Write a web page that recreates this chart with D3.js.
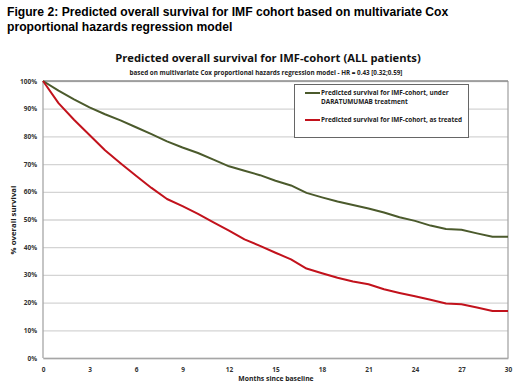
<!DOCTYPE html>
<html>
<head>
<meta charset="utf-8">
<script src="https://cdn.jsdelivr.net/npm/d3@7"></script>
<style>
  body { margin: 0; background: #fff; }
  svg { display: block; }
</style>
</head>
<body>
<script>
// survival, one point per month
const months = d3.range(0, 31);
const darzSurvival = [100, 96.5, 93.4, 90.5, 88.0, 85.8, 83.3, 80.8, 78.2, 76.0, 74.0, 71.6, 69.2, 67.6, 66.0,
    64.0, 62.3, 59.6, 58.0, 56.5, 55.2, 54.0, 52.5, 50.8, 49.5, 47.8, 46.6, 46.3, 45.0, 43.8, 43.8];
const treatedSurvival = [100, 92.0, 86.0, 80.5, 75.0, 70.3, 65.8, 61.4, 57.4, 54.8, 52.0, 49.0, 46.0, 42.8, 40.5,
    38.0, 35.6, 32.3, 30.6, 29.0, 27.6, 26.6, 24.8, 23.5, 22.3, 21.0, 19.7, 19.4, 18.2, 17.0, 17.0];
const seriesNames = ["Predicted survival for IMF-cohort, under|DARATUMUMAB treatment",
    "Predicted survival for IMF-cohort, as treated"];
const seriesColors = ["#4b5a2c", "#c2121c"];
const xTicks = d3.range(0, 31, 3);
const yTicks = d3.range(0, 1.01, 0.1);

const width = 520, height = 385;
const svg = d3.select("body").append("svg")
    .attr("width", width)
    .attr("height", height);

const x = d3.scaleLinear().domain([0, 30]).range([43, 508]);
const y = d3.scaleLinear().domain([0, 1]).range([358, 81]);

const calibri = "'Open Sans', 'Noto Sans', sans-serif";

// figure caption
svg.append("text")
    .attr("x", 7).attr("y", 16)
    .style("font-family", "'Liberation Sans', Arial, sans-serif")
    .style("font-weight", "bold").style("font-size", "12.15px")
    .selectAll("tspan")
    .data(["Figure 2: Predicted overall survival for IMF cohort based on multivariate Cox",
        "proportional hazards regression model"])
    .join("tspan")
    .attr("x", 7).attr("dy", (d, i) => i ? 15 : 0)
    .text(d => d);

svg.append("text")
    .attr("x", 268).attr("y", 62)
    .attr("text-anchor", "middle")
    .style("font-family", calibri).style("font-weight", "bold").style("font-size", "11.2px")
    .attr("fill", "#111")
    .text("Predicted overall survival for IMF-cohort (ALL patients)");

svg.append("text")
    .attr("x", 266).attr("y", 75)
    .attr("text-anchor", "middle")
    .style("font-family", calibri).style("font-weight", "bold").style("font-size", "6.3px")
    .attr("fill", "#222")
    .text("based on multivariate Cox proportional hazards regression model - HR = 0.43 [0.32;0.59]");

// y axis with gridlines
const yAxis = svg.append("g")
    .attr("transform", "translate(43,0)")
    .call(d3.axisLeft(y).tickValues(yTicks).tickFormat(d3.format(".0%"))
        .tickSize(-(x(30) - x(0))).tickPadding(6));
yAxis.select(".domain").remove();
yAxis.selectAll(".tick line").attr("stroke", "#d4d4d4").attr("stroke-width", 1.3);
yAxis.selectAll(".tick text")
    .style("font-family", calibri).style("font-weight", "bold").style("font-size", "6.5px")
    .attr("fill", "#333");

// plot frame: left axis, right border, top line
svg.append("line")
    .attr("x1", x(0)).attr("x2", x(0)).attr("y1", y(1)).attr("y2", y(0))
    .attr("stroke", "#a6a6a6").attr("stroke-width", 1.3);
svg.append("line")
    .attr("x1", x(30)).attr("x2", x(30)).attr("y1", y(1)).attr("y2", y(0))
    .attr("stroke", "#a6a6a6").attr("stroke-width", 1.3);
svg.append("line")
    .attr("x1", x(0)).attr("x2", x(30)).attr("y1", y(1)).attr("y2", y(1))
    .attr("stroke", "#8c8c8c").attr("stroke-width", 1.3);

const xAxis = svg.append("g")
    .attr("transform", "translate(0," + y(0) + ")")
    .call(d3.axisBottom(x).tickValues(xTicks).tickSize(0).tickPadding(9));
xAxis.select(".domain").attr("stroke", "#a6a6a6").attr("stroke-width", 1.3);
xAxis.selectAll(".tick text")
    .style("font-family", calibri).style("font-weight", "bold").style("font-size", "6.5px")
    .attr("fill", "#333");

svg.append("text")
    .attr("x", 276).attr("y", 381)
    .attr("text-anchor", "middle")
    .style("font-family", calibri).style("font-weight", "bold").style("font-size", "6.8px")
    .attr("fill", "#222")
    .text("Months since baseline");

svg.append("text")
    .attr("transform", "translate(16,220) rotate(-90)")
    .attr("text-anchor", "middle")
    .style("font-family", calibri).style("font-weight", "bold").style("font-size", "7.8px")
    .attr("fill", "#222")
    .text("% overall survival");

// curves
const line = d3.line()
    .x((d, i) => x(months[i]))
    .y(d => y(d / 100));

[darzSurvival, treatedSurvival].forEach((vals, i) => {
    svg.append("path")
        .datum(vals)
        .attr("fill", "none")
        .attr("stroke", seriesColors[i])
        .attr("stroke-width", 2)
        .attr("stroke-linejoin", "round")
        .attr("d", line);
});

// legend
const legend = svg.append("g");
legend.append("rect")
    .attr("x", 294.5).attr("y", 84.5).attr("width", 174).attr("height", 53)
    .attr("fill", "#fff").attr("stroke", "#666").attr("stroke-width", 1);

const legendY = [93, 120];
seriesNames.forEach((name, i) => {
    legend.append("line")
        .attr("x1", 305).attr("x2", 320)
        .attr("y1", legendY[i]).attr("y2", legendY[i])
        .attr("stroke", seriesColors[i]).attr("stroke-width", 2);
    legend.append("text")
        .attr("x", 321).attr("y", legendY[i] + 2.3)
        .style("font-family", calibri).style("font-weight", "bold").style("font-size", "6.4px")
        .attr("fill", "#222")
        .selectAll("tspan")
        .data(name.split("|"))
        .join("tspan")
        .attr("x", 321).attr("dy", (d, j) => j ? 9 : 0)
        .text(d => d);
});
</script>
</body>
</html>
